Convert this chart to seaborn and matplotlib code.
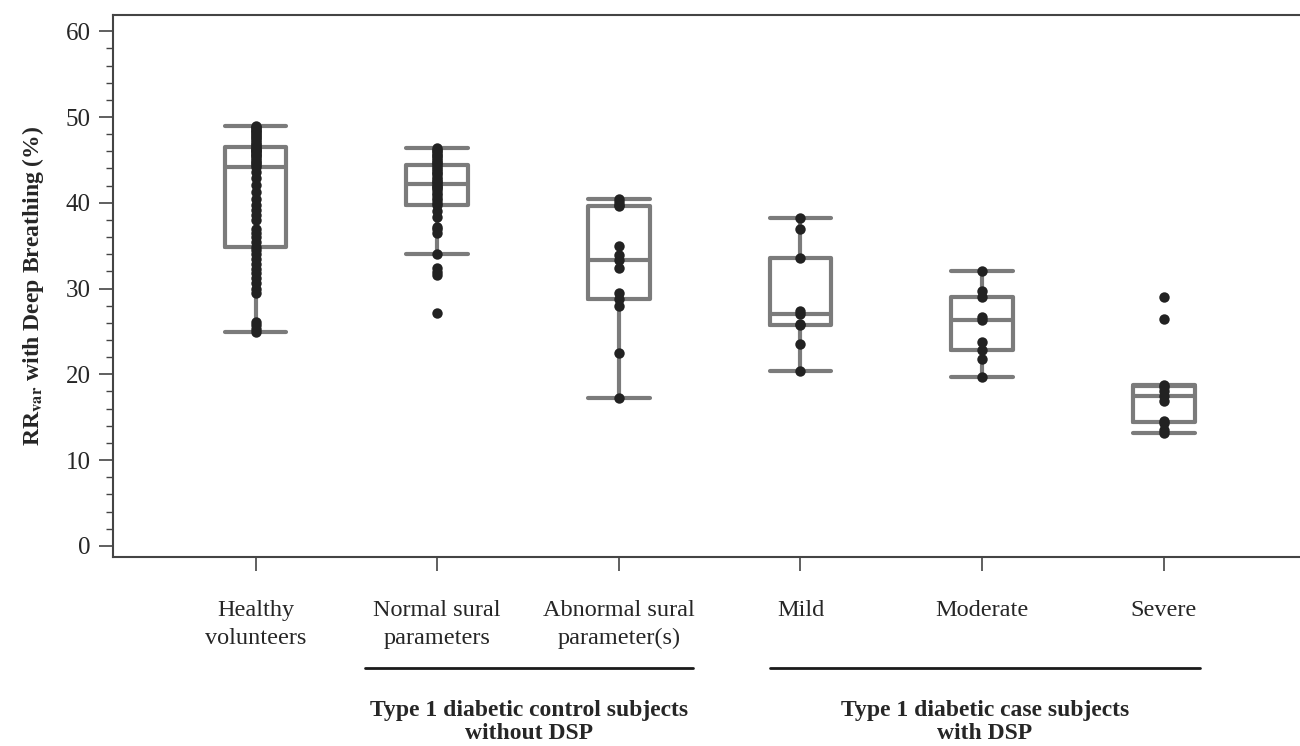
import numpy as np
import pandas as pd
import matplotlib
matplotlib.use("Agg")
import matplotlib.pyplot as plt
import matplotlib.transforms as mtransforms
import seaborn as sns

categories = ["Healthy\nvolunteers", "Normal sural\nparameters", "Abnormal sural\nparameter(s)",
              "Mild", "Moderate", "Severe"]

healthy = [24.9, 25.3, 25.8, 26.1, 29.5, 30.0, 30.6, 31.2, 31.8, 32.3, 32.9, 33.5, 34.0, 34.5,
           34.9,
           35.4, 36.0, 36.5, 37.0, 38.0, 38.6, 39.2, 39.8, 40.5, 41.3, 42.1, 42.9, 43.6,
           44.2,
           44.4, 44.6, 44.8, 45.0, 45.2, 45.4, 45.6, 45.7, 45.9, 46.0, 46.1, 46.2, 46.4,
           46.5,
           46.7, 46.9, 47.1, 47.3, 47.5, 47.7, 47.9, 48.0, 48.2, 48.4, 48.5, 48.7, 48.8, 49.0]
normal_sural = [27.2, 31.6, 31.9, 32.4, 34.0, 36.5, 36.9, 37.2, 38.3, 39.0,
                39.7,
                40.0, 40.3, 40.6, 40.9, 41.2, 41.5, 41.7, 41.9, 42.0,
                42.2,
                42.4, 42.6, 42.8, 43.0, 43.3, 43.5, 43.7, 43.9, 44.2,
                44.4,
                44.6, 44.8, 45.0, 45.2, 45.4, 45.6, 45.8, 46.0, 46.2, 46.4]
abnormal_sural = [17.2, 22.5, 28.0, 28.8, 29.5, 32.4, 33.3, 33.9, 35.0, 39.6, 39.8, 40.1, 40.4]
mild = [20.4, 23.5, 25.8, 25.9, 27.0, 27.4, 33.6, 37.0, 38.2]
moderate = [19.7, 21.8, 22.8, 23.8, 26.3, 26.7, 29.0, 29.7, 32.1]
severe = [13.2, 13.5, 14.3, 14.6, 16.9, 17.5, 18.0, 18.5, 18.8, 26.5, 29.0]

yticks = [0, 10, 20, 30, 40, 50, 60]
ylabel = r"RR$_{\mathbf{var}}$ with Deep Breathing (%)"
group_labels = ["Type 1 diabetic control subjects\nwithout DSP",
                "Type 1 diabetic case subjects\nwith DSP"]

series = [healthy, normal_sural, abnormal_sural, mild, moderate, severe]
df = pd.DataFrame({
    "group": np.concatenate([[c] * len(v) for c, v in zip(categories, series)]),
    "value": np.concatenate(series),
})

sns.set_style("ticks")
plt.rcParams["font.family"] = ["Liberation Serif", "DejaVu Serif"]
plt.rcParams["mathtext.fontset"] = "stix"

fig = plt.figure(figsize=(13, 7.46), dpi=100)
ax = fig.add_axes([0.0869, 0.2534, 1 - 0.0869, 0.9799 - 0.2534])

box_color = "#7b7b7b"
sns.boxplot(data=df, x="group", y="value", order=categories, ax=ax,
            width=0.34, fill=False, color=box_color, linecolor=box_color,
            linewidth=3.0, showfliers=False, whis=1.5, capwidths=0.34)
sns.stripplot(data=df, x="group", y="value", order=categories, ax=ax,
              jitter=False, color="#222222", size=7.5, zorder=5)

ax.set_xlim(-0.785, 5.75)
ax.set_ylim(-1.3, 61.9)
ax.set_yticks(yticks)
ax.set_yticks(np.arange(0, 61, 2), minor=True)
ax.tick_params(axis="y", which="major", length=10, width=1.2, labelsize=18, color="#444444", pad=6)
ax.tick_params(axis="y", which="minor", length=5, width=1.0, color="#444444")
ax.tick_params(axis="x", which="major", length=10, width=1.2, labelsize=17.5, color="#444444", pad=21)
for lab in ax.get_xticklabels():
    lab.set_linespacing(1.45)
    lab.set_verticalalignment("top")

ax.set_xlabel("")
ax.set_ylabel(ylabel, fontsize=17, fontweight="bold", labelpad=14)

for side in ["left", "bottom", "top"]:
    ax.spines[side].set_visible(True)
    ax.spines[side].set_color("#444444")
    ax.spines[side].set_linewidth(1.5)
ax.spines["right"].set_visible(False)

trans = mtransforms.blended_transform_factory(ax.transData, fig.transFigure)
line_y = 1 - 668 / 746
for (x0, x1), text in zip([(0.60, 2.41), (2.833, 5.197)], group_labels):
    ax.plot([x0, x1], [line_y, line_y], color="#1a1a1a", lw=2.0, transform=trans, clip_on=False)
    ax.text((x0 + x1) / 2, 1 - 700 / 746, text, transform=trans, ha="center", va="top",
            fontsize=17, fontweight="bold", linespacing=1.12)

fig.savefig("out.png", dpi=100)
